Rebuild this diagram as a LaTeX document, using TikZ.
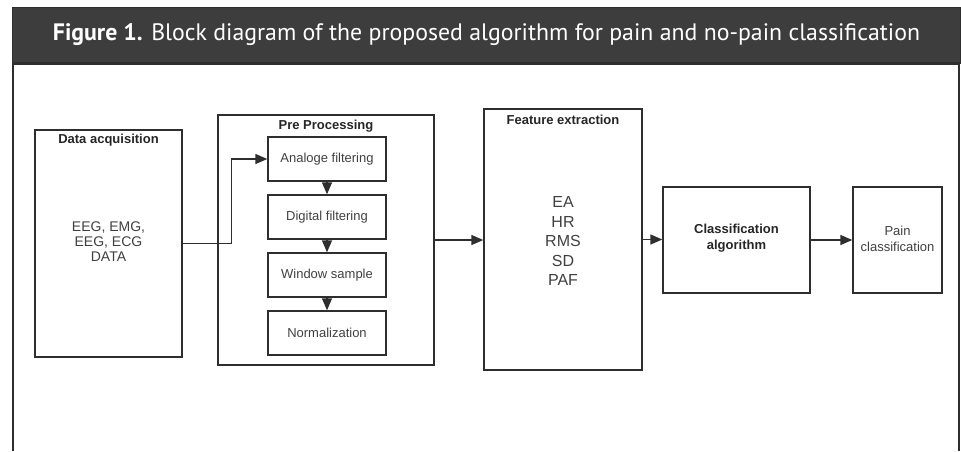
\documentclass[tikz,border=0pt]{standalone}
\usepackage{fontspec}
\setmainfont{Liberation Sans}
\newfontfamily\headfont{PT Sans}
\usetikzlibrary{arrows.meta}

\definecolor{headgray}{HTML}{3D3D3D}
\definecolor{linegray}{HTML}{2E2E2E}
\definecolor{textgray}{HTML}{404040}

\tikzset{
  blk/.style={draw=linegray, line width=1.4pt, rectangle, inner sep=0pt},
  ttl/.style={font=\fontsize{13}{15}\selectfont\bfseries, text=black!85},
  txt/.style={font=\fontsize{13}{16}\selectfont, text=textgray, align=center},
  arr/.style={draw=linegray, line width=1.4pt, ->, >={Triangle[length=12pt,width=10pt]}},
}

\begin{document}
\begin{tikzpicture}[x=1pt, y=-1pt]
    \useasboundingbox (0,0) rectangle (961,451);

    % header and panel
    \fill[headgray] (12,7) rectangle (960,63);
    \draw[linegray, line width=1pt] (12,7) rectangle (960,63);
    \draw[linegray, line width=2.5pt] (12,63) -- (960,63);
    \draw[linegray, line width=2pt] (13,451) -- (13,64) -- (959,64) -- (959,451);
    \node[text=white, font=\headfont\fontsize{23.8}{26}\selectfont] (head) at (486.5,35)
        {\textbf{Figure 1.} Block diagram of the proposed algorithm for pain and no-pain classification};

    % data acquisition
    \node[blk, minimum width=147pt, minimum height=227pt] (data) at (108.5,243.5) {};
    \node[ttl] (dataT) at (108.5,140) {Data acquisition};
    \node[txt, font=\fontsize{14}{15}\selectfont] (dataL) at (108.5,242) {EEG, EMG,\\EEG, ECG\\DATA};

    % pre processing
    \node[blk, minimum width=216pt, minimum height=250pt] (pre) at (326,240) {};
    \node[ttl] (preT) at (326,126) {Pre Processing};
    \node[blk, minimum width=118pt, minimum height=44pt] (an) at (327,159) {};
    \node[txt] at (an) {Analoge filtering};
    \node[blk, minimum width=118pt, minimum height=44pt] (df) at (327,217) {};
    \node[txt] at (df) {Digital filtering};
    \node[blk, minimum width=118pt, minimum height=44pt] (ws) at (327,275) {};
    \node[txt] at (ws) {Window sample};
    \node[blk, minimum width=118pt, minimum height=44pt] (nm) at (327,333) {};
    \node[txt] at (nm) {Normalization};

    % feature extraction
    \node[blk, minimum width=158pt, minimum height=261pt] (feat) at (563,239.5) {};
    \node[ttl] (featT) at (563,120) {Feature extraction};
    \node[txt, font=\fontsize{16}{19.5}\selectfont] (featL) at (563,241) {EA\\HR\\RMS\\SD\\PAF};

    % classification
    \node[blk, minimum width=147pt, minimum height=106pt] (cls) at (736.5,240) {};
    \node[ttl, align=center, font=\fontsize{13}{16}\selectfont\bfseries] at (736.5,238) {Classification\\algorithm};
    \node[blk, minimum width=89pt, minimum height=106pt] (pain) at (897.5,240) {};
    \node[txt] at (897.5,239) {Pain\\classification};

    \draw[arr] (data.east) -- ++(49,0) |- (an.west);
    \draw[arr] (an.south) -- (df.north);
    \draw[arr] (df.south) -- (ws.north);
    \draw[arr] (ws.south) -- (nm.north);
    \draw[arr] (pre.east) -- (pre.east -| feat.west);
    \draw[arr] (feat.east) -- (feat.east -| cls.west);
    \draw[arr] (cls.east) -- (pain.west);
\end{tikzpicture}
\end{document}
